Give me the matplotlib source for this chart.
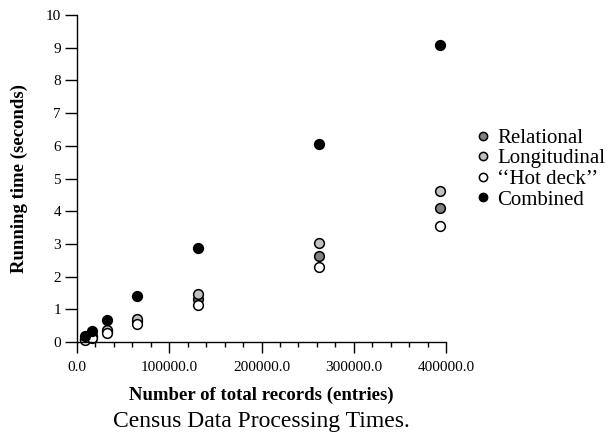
import matplotlib.pyplot as plt
from matplotlib.ticker import MultipleLocator, FormatStrFormatter

plt.rcParams['font.family'] = ['Liberation Serif', 'DejaVu Serif']

# Data
records = [8192, 16384, 32768, 65536, 131072, 262144, 393216]
relational = [0.08, 0.16, 0.33, 0.64, 1.31, 2.63, 4.09]
longitudinal = [0.10, 0.18, 0.37, 0.71, 1.47, 3.03, 4.63]
hot_deck = [0.06, 0.12, 0.26, 0.54, 1.12, 2.30, 3.55]
combined = [0.18, 0.33, 0.67, 1.41, 2.88, 6.05, 9.08]

series = [
    ('Relational', relational, '#808080'),
    ('Longitudinal', longitudinal, '#c0c0c0'),
    ('\u2018\u2018Hot deck\u2019\u2019', hot_deck, 'white'),
    ('Combined', combined, 'black'),
]

fig = plt.figure(figsize=(6.10, 4.46), dpi=100)
ax = fig.add_axes([77 / 610, 1 - 342 / 446, (446 - 77) / 610, (342 - 15) / 446])

for name, vals, col in series:
    ax.plot(records, vals, linestyle='none', marker='o', markersize=7,
            markerfacecolor=col, markeredgecolor='black', markeredgewidth=1.1,
            label=name, clip_on=False)

ax.set_xlim(0, 400000)
ax.set_ylim(0, 10)
ax.spines['top'].set_visible(False)
ax.spines['right'].set_visible(False)
ax.spines['left'].set_linewidth(1.0)
ax.spines['bottom'].set_linewidth(1.0)

ax.xaxis.set_major_locator(MultipleLocator(100000))
ax.xaxis.set_minor_locator(MultipleLocator(20000))
ax.xaxis.set_major_formatter(FormatStrFormatter('%.1f'))
ax.yaxis.set_major_locator(MultipleLocator(1))
ax.tick_params(axis='x', which='major', direction='out', length=8, width=1.0,
               labelsize=11, pad=5.5)
ax.tick_params(axis='x', which='minor', direction='out', length=3.5, width=1.0)
ax.tick_params(axis='y', which='major', direction='out', length=8.5, width=1.0,
               labelsize=11, pad=3)

ax.set_xlabel('Number of total records (entries)', fontsize=13.5, fontweight='bold')
ax.set_ylabel('Running time (seconds)', fontsize=13.5, fontweight='bold')
ax.xaxis.set_label_coords(0.5, (342 - 395) / 327, transform=ax.transAxes)
ax.yaxis.set_label_coords((19 - 77) / 369, 0.5, transform=ax.transAxes)
ax.xaxis.label.set_va('center')
ax.yaxis.label.set_va('center')

fig.legend(loc='center left', bbox_to_anchor=(473 / 610, 1 - 169 / 446), frameon=False,
           fontsize=15, handletextpad=0.15, labelspacing=0.05, markerscale=0.85,
           borderaxespad=0, borderpad=0, handlelength=1.0)

fig.text(261 / 610, 1 - 421 / 446, 'Census Data Processing Times.', ha='center', va='center',
         fontsize=17)

fig.savefig('out.png', dpi=100)
